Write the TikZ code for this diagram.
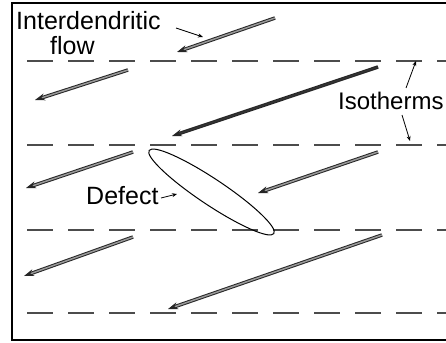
\documentclass[tikz,border=0pt]{standalone}
\usepackage{fontspec}
\setmainfont{Liberation Sans}
\usetikzlibrary{arrows.meta}
\begin{document}
\begin{tikzpicture}[x=1pt,y=-1pt,
  lbl/.style={anchor=base west,inner sep=0pt,font=\fontsize{25}{28}\selectfont},
  isoline/.style={draw=black!70,line width=1.6pt,dash pattern=on 26pt off 15pt},
  flowarrow/.style={draw=black!85,double=black!40,double distance=1.5pt,line width=1pt,
     -{Stealth[length=10pt,width=7pt]}},
  pointer/.style={draw=black,line width=0.8pt,-{Stealth[length=5pt,width=4pt]}}]
\useasboundingbox (0,0) rectangle (446,342);
\fill[white] (0,0) rectangle (446,342);
% frame
\draw[line width=1.2pt] (470,3) -- (12,3) -- (12,340) -- (470,340);
% isotherms
\foreach \y in {61,145,230,313} \draw[isoline] (27,\y) -- (460,\y);
% flow arrows
\coordinate (t1) at (275,18);  \coordinate (h1) at (177,52);
\coordinate (t2) at (128,70);  \coordinate (h2) at (35,100);
\coordinate (t3) at (378,67);  \coordinate (h3) at (172,136);
\coordinate (t4) at (133,152); \coordinate (h4) at (26,188);
\coordinate (t5) at (378,152); \coordinate (h5) at (258,193);
\coordinate (t6) at (133,237); \coordinate (h6) at (24,276);
\coordinate (t7) at (382,235); \coordinate (h7) at (168,309);
\foreach \i in {1,2,4,5,6,7} \draw[flowarrow] (t\i) -- (h\i);
\draw[flowarrow,double=black!80] (t3) -- (h3);
% defect
\draw[line width=1pt] (211.5,192) ellipse[x radius=75,y radius=13,rotate=-33.7];
% labels
\node[lbl] (inter) at (16,30) {Interdendritic};
\node[lbl] (flow) at (50,55) {flow};
\node[lbl,font=\fontsize{24}{28}\selectfont] (iso) at (338,110) {Isotherms};
\node[lbl] (defect) at (86,204) {Defect};
% pointers
\coordinate (p1s) at (176,28); \coordinate (p1e) at (203,37);
\draw[pointer] (p1s) -- (p1e);
\coordinate (p2s) at (406,88); \coordinate (p2e) at (416,61);
\draw[pointer] (p2s) -- (p2e);
\coordinate (p3s) at (402,115); \coordinate (p3e) at (410,141);
\draw[pointer] (p3s) -- (p3e);
\coordinate (p4s) at (161,198); \coordinate (p4e) at (177,194);
\draw[pointer] (p4s) -- (p4e);
\end{tikzpicture}
\end{document}
